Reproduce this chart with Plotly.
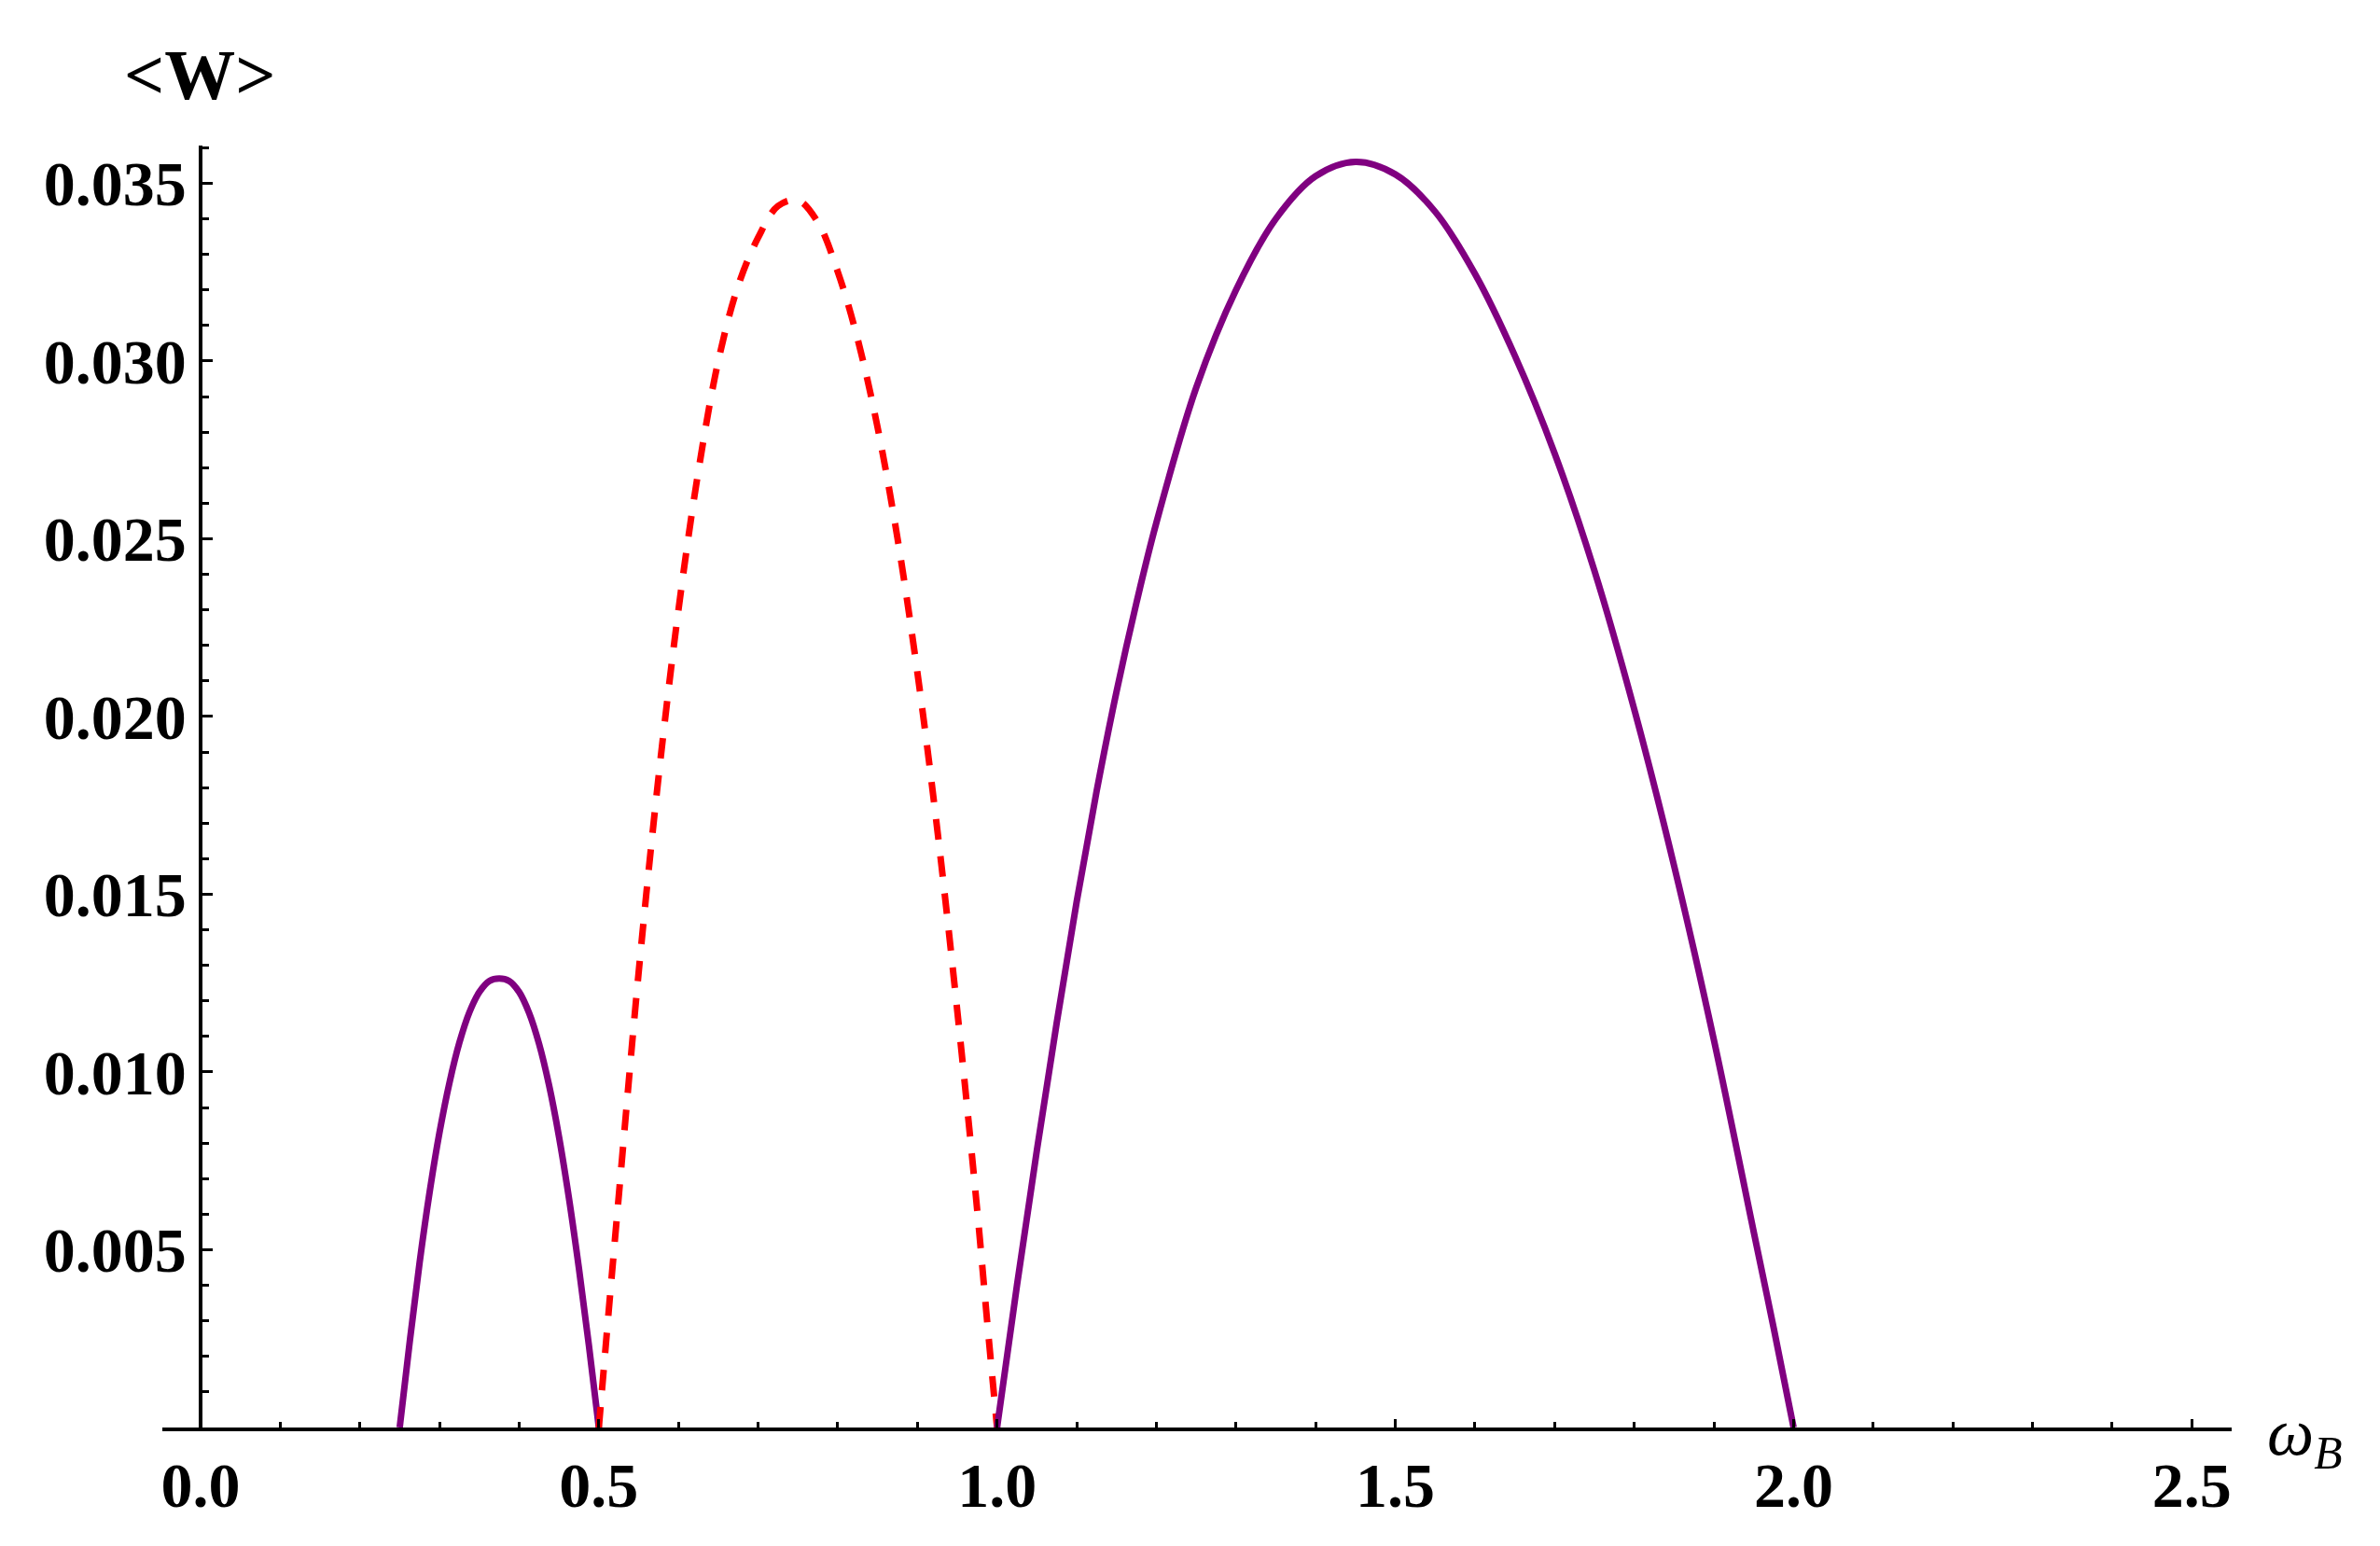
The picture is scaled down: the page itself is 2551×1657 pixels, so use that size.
"""<W> against omega_B: three lobes, redrawn with Plotly in a Mathematica-like style."""

import plotly.graph_objects as go

FONT_FAMILY = "Liberation Serif"
PURPLE = "#800080"
RED = "#FF0000"
INK = "#000000"

# small lobe, solid purple
lobe1_wb = [0.25, 0.2625, 0.275, 0.2875, 0.30, 0.3125, 0.325, 0.3375, 0.35, 0.3625, 0.375,
            0.3875, 0.40, 0.4125, 0.425, 0.4375, 0.45, 0.4625, 0.475, 0.4875, 0.5]
lobe1_w = [0.0, 0.00239, 0.00464, 0.00661, 0.00830, 0.00970, 0.01083, 0.01168, 0.01225, 0.01256, 0.01263,
           0.01256, 0.01225, 0.01166, 0.01079, 0.00963, 0.00818, 0.00645, 0.00448, 0.00232, 0.0]

# middle lobe, red dashed
lobe2_wb = [0.5, 0.5125, 0.525, 0.55, 0.575, 0.60, 0.625, 0.65, 0.675, 0.70, 0.725, 0.75,
            0.775, 0.80, 0.825, 0.85, 0.875, 0.90, 0.925, 0.95, 0.975, 0.9875, 1.0]
lobe2_w = [0.0, 0.0033, 0.0065, 0.0128, 0.0183, 0.0230, 0.0269, 0.0300, 0.03212, 0.03347, 0.03436, 0.03452,
           0.03390, 0.03251, 0.03061, 0.02813, 0.02501, 0.02123, 0.01681, 0.01173, 0.00613, 0.0030, 0.0]

# big lobe, solid purple
lobe3_wb = [1.0, 1.025, 1.05, 1.075, 1.10, 1.125, 1.15, 1.175, 1.20, 1.25, 1.30, 1.35, 1.40,
            1.45, 1.50, 1.55, 1.60, 1.65, 1.70, 1.75, 1.80, 1.85, 1.90, 1.95, 1.975, 2.0]
lobe3_w = [0.0, 0.0040, 0.0078, 0.0114, 0.0148, 0.0179, 0.0207, 0.0232, 0.02545, 0.02925, 0.0320, 0.0340, 0.0352,
           0.0356, 0.03525, 0.0342, 0.03245, 0.03015, 0.0274, 0.0241, 0.0202, 0.0158, 0.0109, 0.0055, 0.0028, 0.0]

x_ticks = [0.0, 0.5, 1.0, 1.5, 2.0, 2.5]
x_tick_text = ["0.0", "0.5", "1.0", "1.5", "2.0", "2.5"]
y_ticks = [0.005, 0.010, 0.015, 0.020, 0.025, 0.030, 0.035]
y_tick_text = ["0.005", "0.010", "0.015", "0.020", "0.025", "0.030", "0.035"]

X_RANGE = [-0.048, 2.55]
Y_RANGE = [0.0, 0.03606]


def _curve(x, y, color, dash=None):
    return go.Scatter(
        x=x,
        y=y,
        mode="lines",
        line=dict(color=color, width=7, shape="spline", smoothing=1.0, dash=dash),
        showlegend=False,
        hoverinfo="skip",
    )


fig = go.Figure()
fig.add_trace(_curve(lobe1_wb, lobe1_w, PURPLE))
fig.add_trace(_curve(lobe2_wb, lobe2_w, RED, dash="22px,18px"))
fig.add_trace(_curve(lobe3_wb, lobe3_w, PURPLE))

tick_font = dict(family=FONT_FAMILY, size=68, color=INK, weight="bold")

# the page body keeps an 8px margin, so the figure is 8px smaller than the window
fig.update_layout(
    width=2543,
    height=1649,
    plot_bgcolor="white",
    paper_bgcolor="white",
    margin=dict(l=166, r=159, t=148, b=127),
    xaxis=dict(
        range=X_RANGE,
        showgrid=False,
        zeroline=False,
        showline=True,
        linecolor=INK,
        linewidth=3.5,
        tickmode="array",
        tickvals=x_ticks,
        ticktext=x_tick_text,
        ticks="inside",
        ticklen=9,
        tickwidth=3,
        tickcolor=INK,
        tickfont=tick_font,
        minor=dict(ticks="inside", tick0=0, dtick=0.1, ticklen=6, tickwidth=3, tickcolor=INK),
    ),
    yaxis=dict(
        range=Y_RANGE,
        anchor="free",
        position=(0 - X_RANGE[0]) / (X_RANGE[1] - X_RANGE[0]),
        showgrid=False,
        zeroline=False,
        showline=True,
        linecolor=INK,
        linewidth=3.5,
        tickmode="array",
        tickvals=y_ticks,
        ticktext=y_tick_text,
        ticks="inside",
        ticklen=11,
        tickwidth=3,
        tickcolor=INK,
        tickfont=tick_font,
        minor=dict(ticks="inside", tick0=0, dtick=0.001, ticklen=7, tickwidth=3, tickcolor=INK),
    ),
)

# axis labels, placed like Mathematica's AxesLabel
fig.add_annotation(
    text="&lt;W&gt;",
    xref="x", x=0, yref="paper", y=1,
    xanchor="center", yanchor="middle", yshift=76,
    showarrow=False,
    font=dict(family=FONT_FAMILY, size=76, color=INK, weight="bold"),
)
fig.add_annotation(
    text="<i>ω<sub>B</sub></i>",
    xref="paper", x=1, yref="y", y=0,
    xanchor="left", yanchor="middle", xshift=36, yshift=-10,
    showarrow=False,
    font=dict(family=FONT_FAMILY, size=71, color=INK),
)

fig.write_html("out.html")
